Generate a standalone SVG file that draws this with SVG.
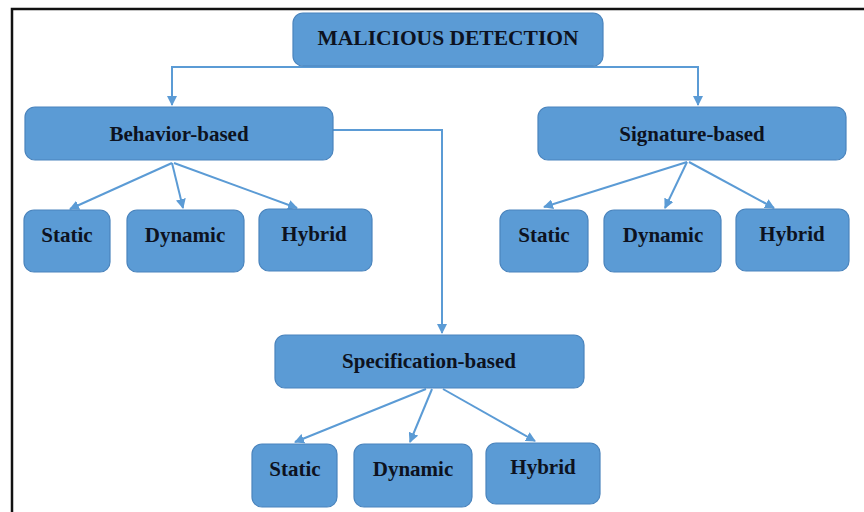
<svg xmlns="http://www.w3.org/2000/svg" width="864" height="512" viewBox="0 0 864 512">
<defs>
<style>
.box{fill:#5b9bd5;stroke:#4a84bd;stroke-width:1.2}
.lbl{font-family:"Liberation Serif","Times New Roman",serif;font-weight:bold;font-size:21px;fill:#0d1220;text-anchor:middle}
.ln{fill:none;stroke:#5b9bd5;stroke-width:2}
</style>
<marker id="ah" viewBox="0 0 10 10" refX="9" refY="5" markerWidth="5" markerHeight="5" orient="auto" markerUnits="strokeWidth">
<path d="M0,0 L10,5 L0,10 z" fill="#5b9bd5"/>
</marker>
</defs>
<rect width="864" height="512" fill="#ffffff"/>
<path d="M12,512 V9 H864" fill="none" stroke="#111" stroke-width="2.5"/>
<g id="connectors">
<path class="ln" d="M448,67 H172 V105" marker-end="url(#ah)"/>
<path class="ln" d="M448,67 H698 V105" marker-end="url(#ah)"/>
<path class="ln" d="M333,130 H442 V333" marker-end="url(#ah)"/>
<path class="ln" d="M172,163 L70,209" marker-end="url(#ah)"/>
<path class="ln" d="M172,163 L183,208" marker-end="url(#ah)"/>
<path class="ln" d="M174,163 L297,208" marker-end="url(#ah)"/>
<path class="ln" d="M687,162 L544,207" marker-end="url(#ah)"/>
<path class="ln" d="M687,162 L665,208" marker-end="url(#ah)"/>
<path class="ln" d="M689,162 L774,208" marker-end="url(#ah)"/>
<path class="ln" d="M426,389 L295,442" marker-end="url(#ah)"/>
<path class="ln" d="M432,389 L410,442" marker-end="url(#ah)"/>
<path class="ln" d="M443,389 L535,441" marker-end="url(#ah)"/>
</g>
<g id="root"><rect class="box" x="293" y="13" width="310" height="53" rx="10"/><text class="lbl" x="448" y="45" style="font-size:21.5px">MALICIOUS DETECTION</text></g>
<g id="behavior"><rect class="box" x="25" y="107" width="308" height="53" rx="10"/><text class="lbl" x="179" y="141">Behavior-based</text></g>
<g id="signature"><rect class="box" x="538" y="107" width="308" height="53" rx="10"/><text class="lbl" x="692" y="141">Signature-based</text></g>
<g id="b-static"><rect class="box" x="24" y="210" width="86" height="62" rx="10"/><text class="lbl" x="67" y="242">Static</text></g>
<g id="b-dynamic"><rect class="box" x="127" y="210" width="117" height="62" rx="10"/><text class="lbl" x="185" y="242">Dynamic</text></g>
<g id="b-hybrid"><rect class="box" x="259" y="209" width="113" height="62" rx="10"/><text class="lbl" x="314" y="241">Hybrid</text></g>
<g id="s-static"><rect class="box" x="500" y="210" width="88" height="62" rx="10"/><text class="lbl" x="544" y="242">Static</text></g>
<g id="s-dynamic"><rect class="box" x="604" y="210" width="117" height="62" rx="10"/><text class="lbl" x="663" y="242">Dynamic</text></g>
<g id="s-hybrid"><rect class="box" x="736" y="209" width="113" height="62" rx="10"/><text class="lbl" x="792" y="241">Hybrid</text></g>
<g id="specification"><rect class="box" x="275" y="335" width="309" height="53" rx="10"/><text class="lbl" x="429" y="368">Specification-based</text></g>
<g id="p-static"><rect class="box" x="252" y="444" width="85" height="63" rx="10"/><text class="lbl" x="295" y="476">Static</text></g>
<g id="p-dynamic"><rect class="box" x="354" y="444" width="118" height="63" rx="10"/><text class="lbl" x="413" y="476">Dynamic</text></g>
<g id="p-hybrid"><rect class="box" x="486" y="443" width="114" height="61" rx="10"/><text class="lbl" x="543" y="474">Hybrid</text></g>
</svg>
